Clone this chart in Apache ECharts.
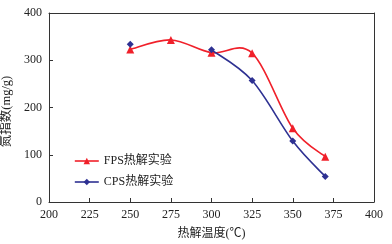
<!DOCTYPE html>
<html><head><meta charset="utf-8">
<script src="https://cdn.jsdelivr.net/npm/echarts@6/dist/echarts.min.js"></script>
<style>html,body{margin:0;padding:0;background:#fff}#c{width:392px;height:244px}</style>
</head><body><div id="c"></div>
<script>
const temps = [250, 275, 300, 325, 350, 370];
const fpsValues = [323, 343, 316, 315, 156, 96];
const cpsValues = [334, null, 322, 257, 129, 54];
const fpsName = 'FPS热解实验';
const cpsName = 'CPS热解实验';
const xTitle = '热解温度(℃)';
const yTitle = '氮指数(mg/g)';
const xTicks = [200, 400, 25];
const yTicks = [0, 400, 100];

const font = '"Liberation Serif", "Times New Roman", "Noto Sans CJK SC", serif';
const axisColor = '#333';
const red = '#f0202a', blue = '#2e3192';

function pairs(vals) { return temps.map((t, i) => [t, vals[i]]); }

// smooth curve (cardinal spline, 1/6 tension) through consecutive non-null points,
// positioned via the chart's coordinate system
function curveSeries(vals, color) {
  return {
    type: 'custom', silent: true, z: 1,
    data: [0],
    renderItem: function (params, api) {
      const runs = []; let cur = [];
      vals.forEach((v, i) => {
        if (v == null) { if (cur.length) runs.push(cur); cur = []; }
        else cur.push(api.coord([temps[i], v]));
      });
      if (cur.length) runs.push(cur);
      const children = [];
      runs.forEach(p => {
        for (let i = 0; i < p.length - 1; i++) {
          const p0 = p[Math.max(0, i - 1)], p1 = p[i], p2 = p[i + 1], p3 = p[Math.min(p.length - 1, i + 2)];
          children.push({
            type: 'bezierCurve',
            shape: {
              x1: p1[0], y1: p1[1], x2: p2[0], y2: p2[1],
              cpx1: p1[0] + (p2[0] - p0[0]) / 6, cpy1: p1[1] + (p2[1] - p0[1]) / 6,
              cpx2: p2[0] - (p3[0] - p1[0]) / 6, cpy2: p2[1] - (p3[1] - p1[1]) / 6
            },
            style: {stroke: color, lineWidth: 1.6, fill: null}
          });
        }
      });
      return {type: 'group', children: children};
    }
  };
}

const chart = echarts.init(document.getElementById('c'));
chart.setOption({
  animation: false,
  textStyle: {fontFamily: font},
  grid: {left: 49, right: 18, top: 13, bottom: 42, outerBoundsMode: 'none', containLabel: false},
  legend: {
    orient: 'vertical', left: 69, top: 150, itemGap: 9, itemWidth: 24, itemHeight: 8,
    textStyle: {fontFamily: font, fontSize: 12, color: '#222'},
    data: [
      {name: fpsName, lineStyle: {color: red, width: 1.6, opacity: 1}},
      {name: cpsName, lineStyle: {color: blue, width: 1.6, opacity: 1}}
    ]
  },
  xAxis: [{
    type: 'value', min: xTicks[0], max: xTicks[1], interval: xTicks[2],
    name: xTitle, nameLocation: 'middle', nameGap: 26,
    nameTextStyle: {fontFamily: font, fontSize: 12, color: '#222'},
    axisLine: {lineStyle: {color: axisColor, width: 1}},
    axisTick: {inside: true, length: 4, lineStyle: {color: axisColor}},
    axisLabel: {fontFamily: font, fontSize: 12, color: '#222', margin: 7},
    splitLine: {show: false}
  }, {
    type: 'value', position: 'top', min: xTicks[0], max: xTicks[1],
    axisLine: {show: true, onZero: false, lineStyle: {color: axisColor, width: 1}},
    axisTick: {show: false}, axisLabel: {show: false}, splitLine: {show: false}
  }],
  yAxis: [{
    type: 'value', min: yTicks[0], max: yTicks[1], interval: yTicks[2],
    name: yTitle, nameLocation: 'middle', nameGap: 30,
    nameTextStyle: {fontFamily: font, fontSize: 12.5, color: '#222', padding: [0, 0, 0, -8]},
    axisLine: {show: true, lineStyle: {color: axisColor, width: 1}},
    axisTick: {show: true, inside: true, length: 4, lineStyle: {color: axisColor}},
    axisLabel: {fontFamily: font, fontSize: 12, color: '#222', margin: 7},
    splitLine: {show: false}
  }, {
    type: 'value', position: 'right', min: yTicks[0], max: yTicks[1],
    axisLine: {show: true, onZero: false, lineStyle: {color: axisColor, width: 1}},
    axisTick: {show: false}, axisLabel: {show: false}, splitLine: {show: false}
  }],
  series: [
    curveSeries(fpsValues, red),
    curveSeries(cpsValues, blue),
    {
      name: fpsName, type: 'line', z: 3,
      data: pairs(fpsValues),
      symbol: 'triangle', symbolSize: 8,
      lineStyle: {color: red, width: 1.6, opacity: 0},
      itemStyle: {color: red}
    }, {
      name: cpsName, type: 'line', z: 4,
      data: pairs(cpsValues),
      symbol: 'diamond', symbolSize: 7,
      lineStyle: {color: blue, width: 1.6, opacity: 0},
      itemStyle: {color: blue}
    }
  ]
});
</script></body></html>
